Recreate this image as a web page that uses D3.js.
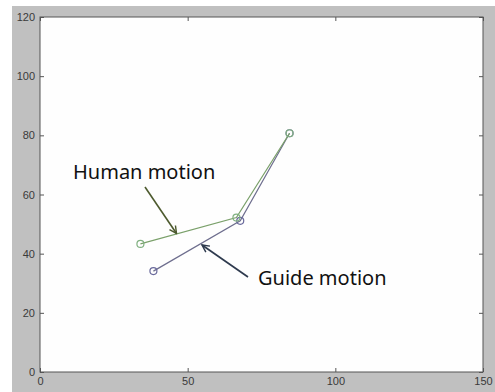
<!DOCTYPE html>
<meta charset="utf-8">
<script src="https://d3js.org/d3.v7.min.js"></script>
<style>
  body { margin: 0; background: #fff; }
</style>
<div id="my_dataviz"></div>
<script>

// data
var humanX = [34, 66.5, 84.5];
var humanY = [43.3, 52.2, 80.7];
var guideX = [38.4, 67.8, 84.5];
var guideY = [34.1, 51.1, 80.7];
var xTicks = [0, 50, 100, 150];
var yTicks = [0, 20, 40, 60, 80, 100, 120];

var W = 495, H = 392;
var margin = {top: 17, right: 12, bottom: 20, left: 40};

var svg = d3.select("#my_dataviz")
  .append("svg")
    .attr("width", W)
    .attr("height", H);

// grey figure background
svg.append("rect")
  .attr("x", 12).attr("y", 6)
  .attr("width", W - 12).attr("height", H - 6)
  .attr("fill", "#c0c0c0");

var x = d3.scaleLinear().domain([0, 150]).range([margin.left, W - margin.right]);
var y = d3.scaleLinear().domain([0, 120]).range([H - margin.bottom, margin.top]);

// white axes area
svg.append("rect")
  .attr("x", x(0)).attr("y", y(120))
  .attr("width", x(150) - x(0)).attr("height", y(0) - y(120))
  .attr("fill", "#fefefe")
  .attr("stroke", "#555")
  .attr("stroke-width", 1);

// axes, ticks pointing inward
function styleAxis(g) {
  g.select(".domain").remove();
  g.selectAll("line").attr("stroke", "#555");
  g.selectAll("text").attr("fill", "#3a3a3a")
    .style("font-family", "Liberation Sans, Arial, sans-serif")
    .style("font-size", "11px");
}
svg.append("g")
  .attr("transform", "translate(0," + y(0) + ")")
  .call(d3.axisBottom(x).tickValues(xTicks).tickSizeInner(-4).tickPadding(5))
  .call(styleAxis);
svg.append("g")
  .attr("transform", "translate(0," + y(120) + ")")
  .call(d3.axisTop(x).tickValues(xTicks).tickSizeInner(-4).tickFormat(""))
  .call(styleAxis);
svg.append("g")
  .attr("transform", "translate(" + x(0) + ",0)")
  .call(d3.axisLeft(y).tickValues(yTicks).tickSizeInner(-4).tickPadding(5))
  .call(styleAxis);
svg.append("g")
  .attr("transform", "translate(" + x(150) + ",0)")
  .call(d3.axisRight(y).tickValues(yTicks).tickSizeInner(-4).tickFormat(""))
  .call(styleAxis);

// series
function drawSeries(xs, ys, lineColor, dotColor) {
  var pts = xs.map(function(d, i) { return [d, ys[i]]; });
  svg.append("path")
    .datum(pts)
    .attr("fill", "none")
    .attr("stroke", lineColor)
    .attr("stroke-width", 1.2)
    .attr("d", d3.line().x(function(d) { return x(d[0]); }).y(function(d) { return y(d[1]); }));
  svg.selectAll(null)
    .data(pts)
    .enter()
    .append("circle")
      .attr("cx", function(d) { return x(d[0]); })
      .attr("cy", function(d) { return y(d[1]); })
      .attr("r", 3.5)
      .attr("fill", "none")
      .attr("stroke", dotColor)
      .attr("stroke-width", 1.2);
}
drawSeries(guideX, guideY, "#6e6e8e", "#6a6a9c");
drawSeries(humanX, humanY, "#7aa06a", "#80b080");

// annotations
var defs = svg.append("defs");
function arrow(id, color) {
  defs.append("marker")
    .attr("id", id)
    .attr("viewBox", "0 0 10 10")
    .attr("refX", 9).attr("refY", 5)
    .attr("markerWidth", 9).attr("markerHeight", 9)
    .attr("orient", "auto")
    .attr("markerUnits", "userSpaceOnUse")
    .append("path")
      .attr("d", "M1,1 L9,5 L1,9")
      .attr("fill", "none")
      .attr("stroke", color)
      .attr("stroke-width", 1.6);
}
arrow("ah", "#4d5a2e");
arrow("ag", "#2e3a4e");

svg.append("line")
  .attr("x1", 145).attr("y1", 187).attr("x2", 176.5).attr("y2", 233.5)
  .attr("stroke", "#4d5a2e").attr("stroke-width", 1.6)
  .attr("marker-end", "url(#ah)");
svg.append("line")
  .attr("x1", 248).attr("y1", 277).attr("x2", 202).attr("y2", 245)
  .attr("stroke", "#2e3a4e").attr("stroke-width", 1.6)
  .attr("marker-end", "url(#ag)");

svg.append("text")
  .attr("x", 73).attr("y", 178.5)
  .style("font-family", "Noto Sans, Open Sans, sans-serif")
  .style("font-size", "20px")
  .attr("fill", "#111")
  .text("Human motion");
svg.append("text")
  .attr("x", 258).attr("y", 284.5)
  .style("font-family", "Noto Sans, Open Sans, sans-serif")
  .style("font-size", "20px")
  .attr("fill", "#111")
  .text("Guide motion");

</script>
